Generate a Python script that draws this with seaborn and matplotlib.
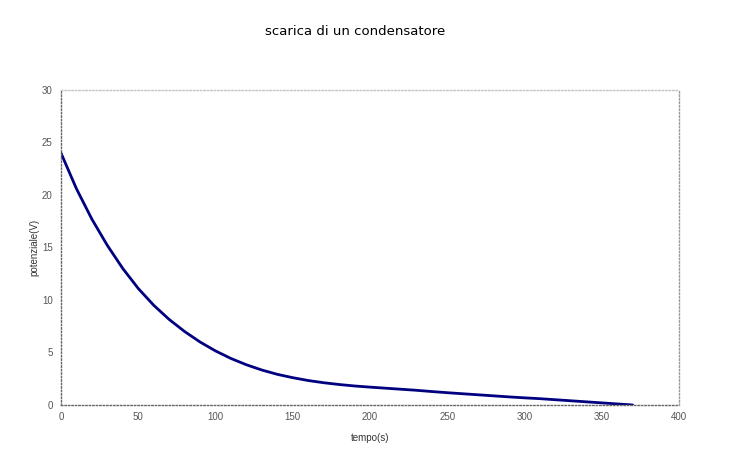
import matplotlib
matplotlib.use("Agg")
import matplotlib.pyplot as plt
import seaborn as sns
import pandas as pd

tempo = [0, 10, 20, 30, 40, 50, 60, 70, 80, 90, 100, 110, 120, 130, 140, 150,
         160, 170, 180, 190, 200, 210, 220, 230, 240, 250, 260, 270, 280, 290,
         300, 310, 320, 330, 340, 350, 360, 370]
potenziale = [24.0, 20.6, 17.7, 15.2, 13.0, 11.1, 9.5, 8.15, 7.0, 6.0, 5.15,
              4.43, 3.83, 3.33, 2.92, 2.6, 2.33, 2.12, 1.95, 1.81, 1.7, 1.6,
              1.5, 1.4, 1.28, 1.17, 1.07, 0.97, 0.87, 0.77, 0.68, 0.6, 0.5,
              0.4, 0.3, 0.2, 0.1, 0.0]

df = pd.DataFrame({"tempo(s)": tempo, "potenziale(V)": potenziale})

sns.set_style("white")
plt.rcParams["font.family"] = ["Liberation Sans", "DejaVu Sans"]

fig = plt.figure(figsize=(7.32, 4.69), dpi=100)
ax = fig.add_axes([0.0833, 0.1365, 0.8443, 0.6716])

sns.lineplot(data=df, x="tempo(s)", y="potenziale(V)", ax=ax,
             color="#000080", linewidth=2.0)

ax.set_xlim(0, 400)
ax.set_ylim(0, 30)
ax.set_xticks(range(0, 401, 50))
ax.set_yticks(range(0, 31, 5))
ax.tick_params(axis="both", labelsize=7, colors="#555555", length=3,
               width=0.8, pad=3)
ax.tick_params(axis="x", direction="inout", length=4)
ax.tick_params(axis="y", direction="out")

for side in ["left", "bottom"]:
    ax.spines[side].set_color("#666666")
    ax.spines[side].set_linestyle((0, (1, 1.5)))
    ax.spines[side].set_linewidth(1.0)
for side in ["top", "right"]:
    ax.spines[side].set_color("#c4c4c4")
    ax.spines[side].set_linestyle((0, (1, 1.5)))
    ax.spines[side].set_linewidth(1.0)
ax.spines["right"].set_color("#9a9a9a")

ax.set_xlabel("tempo(s)", fontsize=7, color="#333333", labelpad=8)
ax.set_ylabel("potenziale(V)", fontsize=7, color="#333333", labelpad=2)

fig.text(0.485, 0.932, "scarica di un condensatore", ha="center", va="center",
         fontsize=9.5, family=["DejaVu Sans"], color="black")

fig.savefig("out.png", dpi=100, facecolor="white")
